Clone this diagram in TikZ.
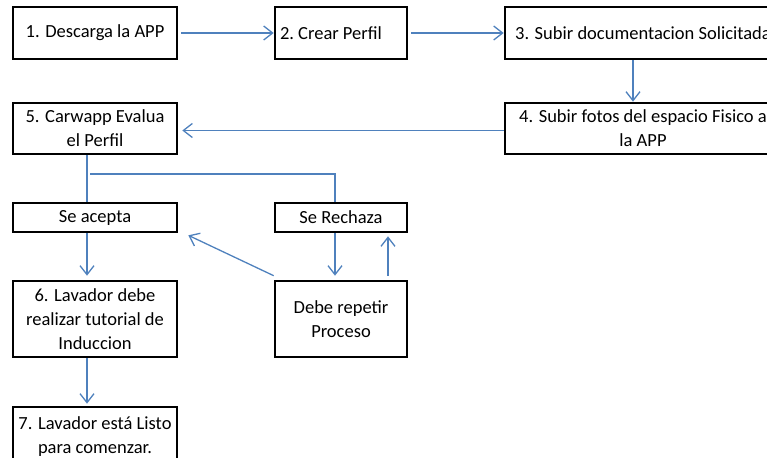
\documentclass[tikz,border=0pt]{standalone}
\usepackage{fontspec}
\setmainfont{Carlito}
\usetikzlibrary{arrows.meta}
\definecolor{flowblue}{RGB}{79,129,189}
\begin{document}
\begin{tikzpicture}[x=1pt,y=-1pt,
    box/.style={draw=black,line width=2.6pt,fill=white,align=center,inner sep=0pt,
        font=\fontsize{18.5}{24}\selectfont},
    flow/.style={draw=flowblue,line width=1.3pt,-{Straight Barb[length=9pt,width=14pt]}},
    link/.style={draw=flowblue,line width=1.3pt}]
	    \useasboundingbox (0,0) rectangle (767,457);
	    \clip (0,0) rectangle (767,457);
	    \node[box,minimum width=164pt,minimum height=52pt] (b1) at (95,33) {1. Descarga la APP};
	    \node[box,minimum width=132pt,minimum height=52pt,text width=122pt,align=flush left] (b2) at (341,33) {\frenchspacing 2. Crear Perfil};
	    \node[box,minimum width=276pt,minimum height=52pt] (b3) at (643,33) {3. Subir documentacion Solicitada};
	    \node[box,minimum width=276pt,minimum height=51pt] (b4) at (643,128.5) {4. Subir fotos del espacio Fisico a\\la APP};
	    \node[box,minimum width=164pt,minimum height=51pt] (b5) at (95,128.5) {5. Carwapp Evalua\\el Perfil};
	    \node[box,minimum width=164pt,minimum height=29pt] (acepta) at (95,217.5) {Se acepta};
	    \node[box,minimum width=132pt,minimum height=29pt] (rechaza) at (341,217.5) {Se Rechaza};
	    \node[box,minimum width=164pt,minimum height=76pt] (b6) at (95,319) {6. Lavador debe\\realizar tutorial de\\Induccion};
	    \node[box,minimum width=132pt,minimum height=76pt] (repite) at (341,319) {Debe repetir\\Proceso};
	    \node[box,minimum width=164pt,minimum height=60pt] (b7) at (95,437) {7. Lavador está Listo\\para comenzar.};
	    \coordinate (split) at (90,174);
	    \draw[flow,shorten <=3pt] (b1.east) -- (b2.west);
	    \draw[flow,shorten <=3pt] (b2.east) -- (b3.west);
	    \draw[flow] ([xshift=-10pt]b3.south) -- ([xshift=-10pt]b4.north);
	    \draw[flow,shorten >=4pt] ([yshift=-2pt]b4.west) -- ([yshift=-2pt]b5.east);
	    \draw[link] ([xshift=-8pt]b5.south) -- ([xshift=-8pt]acepta.north);
	    \draw[link] (split) -| ([xshift=-6pt]rechaza.north);
	    \draw[flow,shorten >=4pt] ([xshift=-8pt]acepta.south) -- ([xshift=-8pt]b6.north);
	    \draw[flow,shorten >=2pt] ([xshift=-8pt]b6.south) -- ([xshift=-8pt]b7.north);
	    \draw[flow,shorten >=4pt] ([xshift=-6pt]rechaza.south) -- ([xshift=-6pt]repite.north);
	    \draw[flow,shorten <=4pt,shorten >=3pt] ([xshift=47pt]repite.north) -- ([xshift=47pt]rechaza.south);
	    \draw[flow] ([yshift=4pt]repite.north west) -- ([shift={(10pt,-2pt)}]acepta.south east);
        \end{tikzpicture}
\end{document}
